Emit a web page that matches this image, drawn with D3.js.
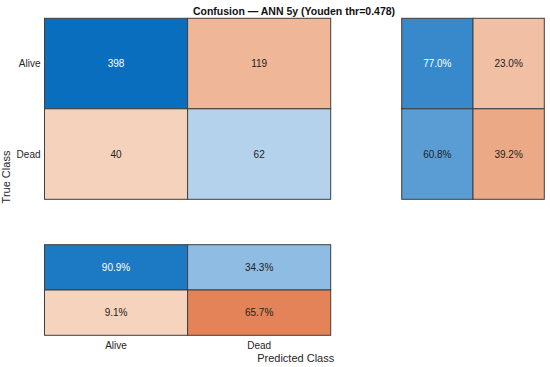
<!DOCTYPE html>
<html><head><meta charset="utf-8">
<script src="https://cdn.jsdelivr.net/npm/d3@7"></script>
<style>body{margin:0;background:#fff}svg{display:block;font-family:"Liberation Sans",Arial,Helvetica,sans-serif}</style>
</head><body><svg id="c" width="550" height="367"></svg>
<script>
const classes = ["Alive", "Dead"];
const counts = [[398, 119], [40, 62]];          // rows: true class, cols: predicted
const rowPct = [[77.0, 23.0], [60.8, 39.2]];     // row summary
const colPct = [[90.9, 34.3], [9.1, 65.7]];      // column summary (row0 = correct, row1 = wrong)
const titleText = "Confusion — ANN 5y (Youden thr=0.478)";

const svg = d3.select("#c");
const blue = d3.scaleLinear().domain([0, 1]).range(["rgb(212,229,245)", "rgb(10,110,190)"]);
const orange = d3.scaleLinear().domain([0, 1]).range(["rgb(248,224,205)", "rgb(217,83,25)"]);
const maxCount = d3.max(counts.flat());

function panel(cells, xr, yr, ncol, nrow) {
  const x = d3.scaleBand().domain(d3.range(ncol)).range(xr);
  const y = d3.scaleBand().domain(d3.range(nrow)).range(yr);
  const g = svg.append("g");
  const cg = g.selectAll("g").data(cells).join("g");
  cg.append("rect")
    .attr("x", d => x(d.c)).attr("y", d => y(d.r))
    .attr("width", x.bandwidth()).attr("height", y.bandwidth())
    .attr("fill", d => d.blue ? blue(d.t) : orange(d.t))
    .attr("stroke", "#3f3f3f").attr("stroke-width", 1);
  cg.append("text")
    .attr("x", d => x(d.c) + x.bandwidth() / 2)
    .attr("y", d => y(d.r) + y.bandwidth() / 2)
    .attr("dy", "0.35em").attr("text-anchor", "middle")
    .attr("font-size", 10)
    .attr("fill", d => d.t > 0.7 ? "#ffffff" : "#222")
    .text(d => d.label);
  return { x, y };
}

// main matrix
const mainCells = [];
counts.forEach((row, r) => row.forEach((v, c) => mainCells.push({ r, c, t: v / maxCount, blue: r === c, label: String(v) })));
const main = panel(mainCells, [44.5, 330.7], [18.3, 199.3], 2, 2);

// row summary
const rsCells = [];
rowPct.forEach((row, r) => row.forEach((v, c) => rsCells.push({ r, c, t: v / 100, blue: c === 0, label: v.toFixed(1) + "%" })));
panel(rsCells, [401.7, 544.3], [18.3, 199.3], 2, 2);

// column summary
const csCells = [];
colPct.forEach((row, r) => row.forEach((v, c) => csCells.push({ r, c, t: v / 100, blue: r === 0, label: v.toFixed(1) + "%" })));
panel(csCells, [44.5, 330.7], [244.7, 335.3], 2, 2);

// y tick labels
svg.append("g").selectAll("text").data(classes).join("text")
  .attr("x", 40.5).attr("y", (d, i) => main.y(i) + main.y.bandwidth() / 2)
  .attr("dy", "0.35em").attr("text-anchor", "end").attr("font-size", 10).attr("fill", "#262626")
  .text(d => d);
// x tick labels
svg.append("g").selectAll("text").data(classes).join("text")
  .attr("x", (d, i) => main.x(i) + main.x.bandwidth() / 2).attr("y", 349)
  .attr("text-anchor", "middle").attr("font-size", 10).attr("fill", "#262626")
  .text(d => d);

svg.append("text").attr("x", 295.7).attr("y", 361.5).attr("text-anchor", "middle")
  .attr("font-size", 11).attr("fill", "#262626").text("Predicted Class");
svg.append("text").attr("transform", "translate(10,177) rotate(-90)").attr("text-anchor", "middle")
  .attr("font-size", 11).attr("fill", "#262626").text("True Class");
svg.append("text").attr("x", 294).attr("y", 15).attr("text-anchor", "middle")
  .attr("font-size", 10.5).attr("font-weight", "bold").attr("fill", "#111").text(titleText);
</script></body></html>
